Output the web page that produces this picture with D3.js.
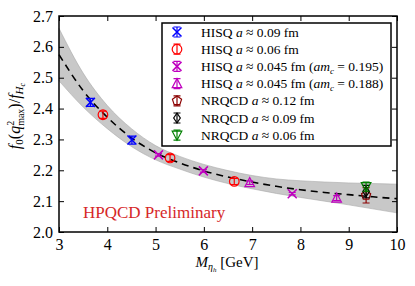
<!DOCTYPE html>
<html>
<head>
<meta charset="utf-8">
<script src="https://cdn.jsdelivr.net/npm/d3@7"></script>
<style>
  body { margin: 0; background: #fff; }
  svg text { font-family: "Liberation Serif", "Times New Roman", serif !important; }
</style>
</head>
<body>
<script>
// fit curve and error band
var fitX  = [3, 3.5, 4, 4.5, 5, 5.5, 6, 6.5, 7, 7.5, 8, 8.5, 9, 9.5, 10];
var fitY  = [2.575, 2.458, 2.372, 2.305, 2.257, 2.224, 2.198, 2.178, 2.162, 2.148, 2.137, 2.128, 2.121, 2.114, 2.108];
var bandHi = [2.660, 2.515, 2.410, 2.335, 2.280, 2.245, 2.219, 2.199, 2.183, 2.172, 2.166, 2.162, 2.159, 2.157, 2.155];
var bandLo = [2.490, 2.405, 2.335, 2.277, 2.234, 2.204, 2.178, 2.157, 2.140, 2.125, 2.112, 2.100, 2.088, 2.075, 2.062];

// data sets
var hisq09   = {x: [3.65, 4.51], y: [2.420, 2.298], e: [0.013, 0.013]};
var hisq06   = {x: [3.91, 5.30, 6.63], y: [2.380, 2.240, 2.164], e: [0.012, 0.011, 0.01]};
var hisq045a = {x: [5.06, 5.99, 7.83], y: [2.250, 2.198, 2.124], e: [0.004, 0.004, 0.004]};
var hisq045b = {x: [6.95, 8.75], y: [2.160, 2.110], e: [0.006, 0.008]};
var nrqcd12  = {x: [9.36], y: [2.119], e: [0.025]};
var nrqcd09  = {x: [9.36], y: [2.131], e: [0.02]};
var nrqcd06  = {x: [9.36], y: [2.147], e: [0.015]};

var xTicks = [3, 4, 5, 6, 7, 8, 9, 10];
var yTicks = [2.0, 2.1, 2.2, 2.3, 2.4, 2.5, 2.6, 2.7];

var width = 415, height = 286;
var x = d3.scaleLinear().domain([3, 10]).range([59, 397]);
var y = d3.scaleLinear().domain([2.0, 2.7]).range([232, 16]);

var svg = d3.select("body").append("svg")
    .attr("width", width)
    .attr("height", height);

// band
var pts = fitX.map(function(d, i) { return {x: d, y: fitY[i], lo: bandLo[i], hi: bandHi[i]}; });
svg.append("path")
    .datum(pts)
    .attr("d", d3.area().curve(d3.curveMonotoneX)
        .x(function(d) { return x(d.x); })
        .y0(function(d) { return y(d.lo); })
        .y1(function(d) { return y(d.hi); }))
    .style("fill", "#c8c8c8")
    .style("stroke", "#aaa")
    .style("stroke-width", 0.6);

svg.append("path")
    .datum(pts)
    .attr("d", d3.line().curve(d3.curveMonotoneX)
        .x(function(d) { return x(d.x); })
        .y(function(d) { return y(d.y); }))
    .style("fill", "none")
    .style("stroke", "#000")
    .style("stroke-width", 1.6)
    .style("stroke-dasharray", "7,5");

// axes with inward ticks
function noLabels(g) { g.selectAll("text").remove(); g.select(".domain").remove(); }
svg.append("g").attr("transform", "translate(0,232)")
    .call(d3.axisBottom(x).tickValues(xTicks).tickSizeInner(-5).tickSizeOuter(0).tickPadding(7).tickFormat(d3.format("d")))
    .call(function(g) { g.select(".domain").remove(); g.selectAll("text").style("font-size", "16px"); });
svg.append("g").attr("transform", "translate(0,16)")
    .call(d3.axisTop(x).tickValues(xTicks).tickSizeInner(-5).tickSizeOuter(0)).call(noLabels);
svg.append("g").attr("transform", "translate(59,0)")
    .call(d3.axisLeft(y).tickValues(yTicks).tickSizeInner(-5).tickSizeOuter(0).tickPadding(6).tickFormat(d3.format(".1f")))
    .call(function(g) { g.select(".domain").remove(); g.selectAll("text").style("font-size", "16px"); });
svg.append("g").attr("transform", "translate(397,0)")
    .call(d3.axisRight(y).tickValues(yTicks).tickSizeInner(-5).tickSizeOuter(0)).call(noLabels);
svg.selectAll(".tick line").style("stroke-width", 1);

svg.append("rect")
    .attr("x", 59).attr("y", 16).attr("width", 338).attr("height", 216)
    .style("fill", "none").style("stroke", "#000").style("stroke-width", 1.5);

// marker drawing
function marker(g, type, color, cx, cy, ep) {
  var m = g.append("g").attr("transform", "translate(" + cx + "," + cy + ")")
      .style("fill", "none").style("stroke", color).style("stroke-width", 1.2);
  // error bar with caps
  m.append("path").attr("d", "M0," + (-ep) + "V" + ep + "M-3.5," + (-ep) + "H3.5M-3.5," + ep + "H3.5");
  if (type == "x") {
    m.append("path").attr("d", "M-4.5,-4.5L4.5,4.5M-4.5,4.5L4.5,-4.5").style("stroke-width", 1.5);
  } else if (type == "o") {
    m.append("circle").attr("r", 4.8);
  } else if (type == "^") {
    m.append("path").attr("d", "M0,-5L4.8,4L-4.8,4Z");
  } else if (type == "v") {
    m.append("path").attr("d", "M0,5L4.8,-4L-4.8,-4Z");
  } else if (type == "p") {
    m.append("path").attr("d", d3.range(5).map(function(i) {
      var a = -Math.PI / 2 + i * 2 * Math.PI / 5;
      return (i ? "L" : "M") + (4.8 * Math.cos(a)).toFixed(2) + "," + (4.8 * Math.sin(a)).toFixed(2);
    }).join("") + "Z");
  } else if (type == "d") {
    m.append("path").attr("d", "M0,-5L3.3,0L0,5L-3.3,0Z");
  }
}

var series = [
  {d: hisq09, t: "x", c: "#0000ff"},
  {d: hisq06, t: "o", c: "#ff0000"},
  {d: hisq045a, t: "x", c: "#bf00bf"},
  {d: hisq045b, t: "^", c: "#bf00bf"},
  {d: nrqcd12, t: "p", c: "#8b0000"},
  {d: nrqcd09, t: "d", c: "#000000"},
  {d: nrqcd06, t: "v", c: "#008000"}
];
var pg = svg.append("g");
series.forEach(function(s) {
  s.d.x.forEach(function(xv, i) {
    marker(pg, s.t, s.c, x(xv), y(s.d.y[i]), y(2.0) - y(2.0 + s.d.e[i]));
  });
});

// watermark
svg.append("text").attr("x", 83).attr("y", 218)
    .style("fill", "#d62728").style("font-size", "17px")
    .text("HPQCD Preliminary");

// legend
svg.append("rect").attr("x", 162).attr("y", 23).attr("width", 229).attr("height", 123)
    .style("fill", "#fff").style("stroke", "#000").style("stroke-width", 1.5);
var legendLabels = [
  ["HISQ ", ["a", "i"], " ≈ 0.09 fm"],
  ["HISQ ", ["a", "i"], " ≈ 0.06 fm"],
  ["HISQ ", ["a", "i"], " ≈ 0.045 fm (", ["am", "i"], ["c", "s"], " = 0.195)"],
  ["HISQ ", ["a", "i"], " ≈ 0.045 fm (", ["am", "i"], ["c", "s"], " = 0.188)"],
  ["NRQCD ", ["a", "i"], " ≈ 0.12 fm"],
  ["NRQCD ", ["a", "i"], " ≈ 0.09 fm"],
  ["NRQCD ", ["a", "i"], " ≈ 0.06 fm"]
];
var lg = svg.append("g");
series.forEach(function(s, i) {
  var ly = 32 + i * 17.2;
  marker(lg, s.t, s.c, 177, ly, 5);
  var t = lg.append("text").attr("x", 201).attr("y", ly + 4.5).style("font-size", "13.5px");
  var sub = false;
  legendLabels[i].forEach(function(p) {
    var sp = t.append("tspan");
    if (sub) { sp.attr("dy", -3); sub = false; }
    if (typeof p == "string") { sp.text(p); }
    else if (p[1] == "i") { sp.text(p[0]).style("font-style", "italic"); }
    else { sp.text(p[0]).style("font-style", "italic").style("font-size", "9px").attr("dy", 3); sub = true; }
  });
});

// axis labels
var xl = svg.append("text").attr("x", 227).attr("y", 267).attr("text-anchor", "middle").style("font-size", "15px");
xl.append("tspan").text("M").style("font-style", "italic");
xl.append("tspan").text("η").style("font-style", "italic").style("font-size", "10px").attr("dy", 3);
xl.append("tspan").text("h").style("font-style", "italic").style("font-size", "7px").attr("dy", 2);
xl.append("tspan").text(" [GeV]").attr("dy", -5);

var yl = svg.append("text").attr("transform", "translate(20,116) rotate(-90)")
    .attr("text-anchor", "middle").style("font-size", "16px");
yl.append("tspan").text("f").style("font-style", "italic");
yl.append("tspan").text("0").style("font-size", "11px").attr("dy", 3);
yl.append("tspan").text("(").attr("dy", -3);
yl.append("tspan").text("q").style("font-style", "italic");
yl.append("tspan").text("2").style("font-size", "10px").attr("dy", -6);
yl.append("tspan").text("max").style("font-size", "10px").attr("dx", -5).attr("dy", 10);
yl.append("tspan").text(")/").attr("dy", -4);
yl.append("tspan").text("f").style("font-style", "italic");
yl.append("tspan").text("H").style("font-style", "italic").style("font-size", "11px").attr("dy", 3);
yl.append("tspan").text("c").style("font-style", "italic").style("font-size", "8px").attr("dy", 2);
</script>
</body>
</html>
